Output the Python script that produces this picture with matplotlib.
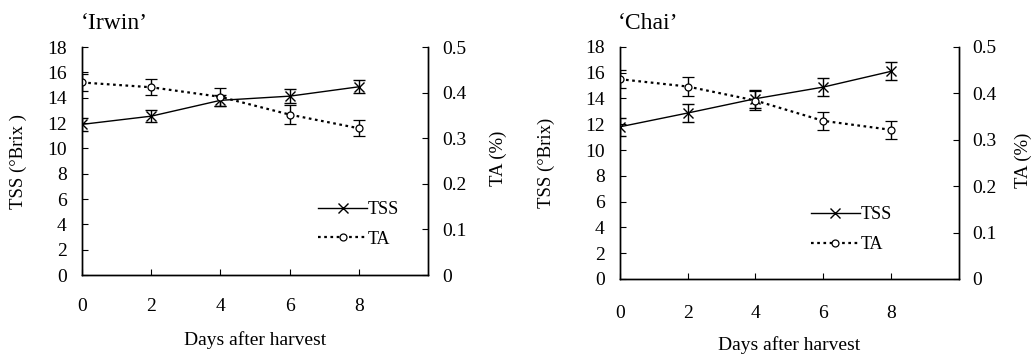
import matplotlib
matplotlib.use("Agg")
import matplotlib.pyplot as plt

plt.rcParams['font.family'] = ['Liberation Serif', 'DejaVu Serif']

# Days after harvest
days = [0, 2, 4, 6, 8]

# 'Irwin'
irwin_tss = [11.9, 12.55, 13.8, 14.13, 14.87]
irwin_tss_err = [0.5, 0.5, 0.45, 0.55, 0.5]
irwin_ta = [0.4225, 0.412, 0.391, 0.352, 0.322]
irwin_ta_err = [0.018, 0.018, 0.02, 0.02, 0.018]

# 'Chai'
chai_tss = [11.8, 12.87, 13.98, 14.88, 16.1]
chai_tss_err = [0.72, 0.72, 0.7, 0.72, 0.7]
chai_ta = [0.4304, 0.4146, 0.3845, 0.3407, 0.3214]
chai_ta_err = [0.02, 0.021, 0.02, 0.02, 0.02]

# title, y label, data, axes box, x tick pad, legend anchor, label coords
panels = [
    ("\u2018Irwin\u2019", "TSS (\u00b0Brix )", irwin_tss, irwin_tss_err, irwin_ta, irwin_ta_err,
     [0.0794, 0.2275, 0.335, 0.640], 16.5, (0.662, 0.222),
     (-0.16, 1.179, -0.246)),
    ("\u2018Chai\u2019", "TSS (\u00b0Brix)", chai_tss, chai_tss_err, chai_ta, chai_ta_err,
     [0.600, 0.2163, 0.328, 0.652], 19, (0.543, 0.213),
     (-0.19, 1.165, -0.245)),
]

fig = plt.figure(figsize=(10.33, 3.56), dpi=100)

for title, ylab, tss, tss_err, ta, ta_err, pos, xpad, legpos, lc in panels:
    ax = fig.add_axes(pos)
    ax2 = ax.twinx()

    # TSS on the left axis
    l1 = ax.errorbar(days, tss, yerr=tss_err, color='black', lw=1.0, marker='x',
                     ms=7, mew=1.0, capsize=4, elinewidth=1.0, capthick=1.0,
                     label='TSS')
    # TA on the right axis
    l2 = ax2.errorbar(days, ta, yerr=ta_err, color='black', lw=1.6, ls=(0, (1.2, 1.6)),
                      marker='o', ms=5, mfc='white', mew=0.9, capsize=4,
                      elinewidth=1.0, capthick=1.0, label='TA')

    ax.set_xlim(0, 10)
    ax.set_ylim(0, 18)
    ax2.set_ylim(0, 0.5)
    ax.set_xticks(days)
    ax.set_yticks(range(0, 19, 2))
    ax2.set_yticks([0, 0.1, 0.2, 0.3, 0.4, 0.5])
    ax2.set_yticklabels(['0', '0.1', '0.2', '0.3', '0.4', '0.5'])

    for a in (ax, ax2):
        a.spines['top'].set_visible(False)
        for s in a.spines.values():
            s.set_linewidth(1.0)
    ax.tick_params(axis='y', direction='in', length=4.5, labelsize=14, pad=11)
    ax.tick_params(axis='x', direction='in', length=4.5, labelsize=14, pad=xpad)
    ax2.tick_params(axis='y', direction='in', length=4.5, labelsize=14, pad=10)

    ax.set_xlabel("Days after harvest", fontsize=14)
    ax.set_ylabel(ylab, fontsize=13.5)
    ax2.set_ylabel("TA (%)", fontsize=13.5)
    ax.yaxis.set_label_coords(lc[0], 0.5)
    ax2.yaxis.set_label_coords(lc[1], 0.51)
    ax.xaxis.set_label_coords(0.5, lc[2])
    ax.set_title(title, fontsize=17, loc='left', x=-0.005, pad=13)

    ax.legend([l1[0], l2[0]], ['TSS', 'TA'], loc='center left',
              bbox_to_anchor=legpos, frameon=False, fontsize=13,
              handlelength=2.7, handletextpad=0.05, labelspacing=0.7,
              borderaxespad=0)

fig.savefig("out.png", dpi=100)
